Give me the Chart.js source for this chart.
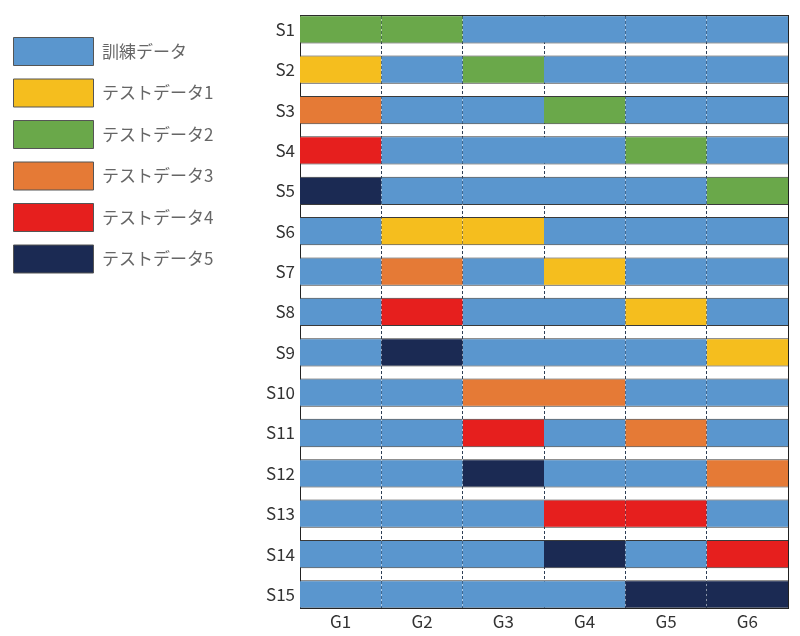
<!DOCTYPE html>
<html>
<head>
<meta charset="utf-8">
<script src="https://cdn.jsdelivr.net/npm/chart.js@4/dist/chart.umd.min.js"></script>
<style>
  html, body { margin: 0; padding: 0; background: #fff; }
  #wrap { width: 800px; height: 636px; }
</style>
</head>
<body>
<div id="wrap"><canvas id="c" width="800" height="636"></canvas></div>
<script>
// ---- data ----
const rowLabels = ['S1','S2','S3','S4','S5','S6','S7','S8','S9','S10','S11','S12','S13','S14','S15'];
const colLabels = ['G1','G2','G3','G4','G5','G6'];
const legendLabels = ['訓練データ','テストデータ1','テストデータ2','テストデータ3','テストデータ4','テストデータ5'];
const legendColors = ['#5A96CE','#F5BE1E','#6AA84A','#E57A36','#E61F1E','#1B2A53'];
// role of each cell: 0 = 訓練データ, 1..5 = テストデータn  (rows S1..S15, columns G1..G6)
const assignment = [
  [2,2,0,0,0,0],
  [1,0,2,0,0,0],
  [3,0,0,2,0,0],
  [4,0,0,0,2,0],
  [5,0,0,0,0,2],
  [0,1,1,0,0,0],
  [0,3,0,1,0,0],
  [0,4,0,0,1,0],
  [0,5,0,0,0,1],
  [0,0,3,3,0,0],
  [0,0,4,0,3,0],
  [0,0,5,0,0,3],
  [0,0,0,4,4,0],
  [0,0,0,5,0,4],
  [0,0,0,0,5,5]
];
const cellWidth = 1; // each group occupies one unit

// let the left legend be wider than Chart.js' default cap for side boxes
const LEGEND_WIDTH = 255;
const LegendEl = Chart.Legend && Chart.Legend._element;
if (LegendEl) {
  const origFit = LegendEl.prototype.fit;
  LegendEl.prototype.fit = function () {
    origFit.call(this);
    if (this.options.position === 'left') this.width = LEGEND_WIDTH;
  };
}

const edge = '#3a3a3a';
const datasets = colLabels.map((g, ci) => ({
  label: g,
  stack: 'row',
  data: rowLabels.map((s, ri) => ({ y: ri + 1, x: cellWidth })),
  backgroundColor: rowLabels.map((s, ri) => legendColors[assignment[ri][ci]]),
  borderColor: edge,
  borderWidth: { top: 1, bottom: 1, left: 0, right: 0 },
  borderSkipped: false,
  categoryPercentage: 1.0,
  barPercentage: 0.7
}));

const font = { family: "'Noto Sans CJK JP', 'Noto Sans', sans-serif", size: 17 };

new Chart(document.getElementById('c'), {
  type: 'bar',
  data: { datasets },
  options: {
    indexAxis: 'y',
    responsive: false,
    animation: false,
    layout: { padding: { top: 6, right: 11, bottom: 1, left: 0 } },
    plugins: {
      tooltip: { enabled: false },
      legend: {
        position: 'left',
        align: 'start',
        onClick: null,
        title: { display: true, text: '', padding: 0, font: { size: 10, lineHeight: 1.8 } },
        labels: {
          boxWidth: 80,
          boxHeight: 28,
          padding: 13.5,
          color: '#333',
          font: font,
          generateLabels: () => legendLabels.map((t, i) => ({
            text: t,
            fillStyle: legendColors[i],
            strokeStyle: '#555',
            lineWidth: 1,
            hidden: false,
            datasetIndex: i
          }))
        }
      }
    },
    scales: {
      x: {
        type: 'linear',
        position: 'bottom',
        stacked: true,
        min: 0,
        max: colLabels.length,
        afterBuildTicks: (s) => { s.ticks = colLabels.map((g, i) => ({ value: i + 0.5 })); },
        ticks: {
          color: '#333',
          font: font,
          padding: 3,
          autoSkip: false,
          maxRotation: 0,
          callback: (v) => colLabels[Math.round(v - 0.5)]
        },
        grid: { display: false, drawTicks: false },
        border: { display: true, color: '#222', width: 1 }
      },
      x2: {
        type: 'linear',
        position: 'top',
        min: 0,
        max: colLabels.length,
        z: 1,
        afterBuildTicks: (s) => { s.ticks = colLabels.slice(1).map((g, i) => ({ value: i + 1 })); },
        ticks: { display: false },
        grid: { drawTicks: false, color: '#2d3e55', lineWidth: 1 },
        border: { display: true, color: '#222', width: 1, dash: [3, 2] }
      },
      y: {
        type: 'linear',
        reverse: true,
        offset: false,
        min: 0.65,
        max: rowLabels.length + 0.35,
        afterBuildTicks: (s) => { s.ticks = rowLabels.map((r, i) => ({ value: i + 1 })); },
        afterFit: (s) => { s.width = 45; },
        ticks: {
          color: '#333',
          font: font,
          padding: 5,
          autoSkip: false,
          callback: (v) => rowLabels[Math.round(v) - 1]
        },
        grid: { display: false, drawTicks: false, offset: false },
        border: { display: true, color: '#222', width: 1 }
      },
      y2: {
        type: 'linear',
        position: 'right',
        min: 0,
        max: 1,
        ticks: { display: false },
        grid: { display: false, drawTicks: false },
        border: { display: true, color: '#222', width: 1 },
        afterFit: (s) => { s.width = 1; }
      }
    }
  }
});
</script>
</body>
</html>
